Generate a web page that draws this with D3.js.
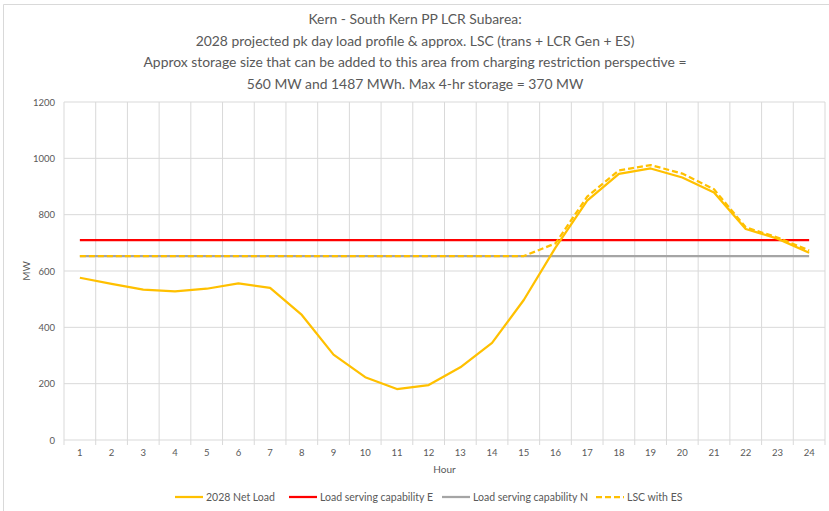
<!DOCTYPE html>
<html><head><meta charset="utf-8">
<script src="https://cdn.jsdelivr.net/npm/d3@7"></script>
<style>body{margin:0;background:#fff}svg{display:block}text{font-family:Lato,"Open Sans",sans-serif}</style>
</head><body><svg id="c" width="829" height="511"></svg>
<script>
const hours = d3.range(1, 25).map(String);
const netLoad = [576,554,534,528,537,556,540,444,303,223,181,195,258,345,497,683,850,945,964,932,879,749,715,665];
const lscE = Array(24).fill(710);
const lscN = Array(24).fill(653);
const lscES = [653,653,653,653,653,653,653,653,653,653,653,653,653,653,653,698,864,957,976,946,890,755,719,673];
const yTicks = [0,200,400,600,800,1000,1200];
const titleLines = ["Kern - South Kern PP LCR Subarea:",
  "2028 projected pk day load profile & approx. LSC (trans + LCR Gen + ES)",
  "Approx storage size that can be added to this area from charging restriction perspective =",
  "560 MW and 1487 MWh. Max 4-hr storage = 370 MW"];
const series = [
  {name:"2028 Net Load", values:netLoad, color:"#FFC000", dash:null},
  {name:"Load serving capability E", values:lscE, color:"#FF0000", dash:null},
  {name:"Load serving capability N", values:lscN, color:"#A5A5A5", dash:null},
  {name:"LSC with ES", values:lscES, color:"#FFC000", dash:"6,3"}
];
const drawOrder = [2,1,3,0];

const svg = d3.select("#c");
const L = 64, R = 825, T = 102, B = 440;
const x = d3.scaleBand().domain(hours).range([L, R]);
const y = d3.scaleLinear().domain([0, 1200]).range([B, T]);
const grid = "#d9d9d9", txt = "#595959";

// chart border
svg.append("path").attr("d", `M3.5,511 V4.5 H829`).attr("fill","none").attr("stroke","#d9d9d9");

// title
svg.append("g").selectAll("text").data(titleLines).join("text")
  .attr("x", 415).attr("y", (d,i)=>24 + i*21.7).attr("text-anchor","middle")
  .attr("font-size", 13.9).attr("fill", txt).text(d=>d);

// horizontal grid
svg.append("g").selectAll("line").data(yTicks).join("line")
  .attr("x1", L).attr("x2", R).attr("y1", d=>y(d)).attr("y2", d=>y(d))
  .attr("stroke", grid).attr("stroke-width",1);
// vertical grid (category boundaries)
const bounds = hours.map(h=>x(h)).concat([R]);
svg.append("g").selectAll("line").data(bounds).join("line")
  .attr("x1", d=>d).attr("x2", d=>d).attr("y1", T).attr("y2", B+5)
  .attr("stroke", grid).attr("stroke-width",1);

// y axis labels
const yAxis = svg.append("g").attr("transform", `translate(${L},0)`)
  .call(d3.axisLeft(y).tickValues(yTicks).tickFormat(d3.format("d")).tickSize(0).tickPadding(9));
yAxis.select(".domain").remove();
yAxis.selectAll("text").attr("fill", txt).attr("font-size", 9.5).attr("font-family","Lato");

// x axis labels
const xAxis = svg.append("g").attr("transform", `translate(0,${B})`)
  .call(d3.axisBottom(x).tickSize(0).tickPadding(9));
xAxis.select(".domain").remove();
xAxis.selectAll("text").attr("fill", txt).attr("font-size", 9.5).attr("font-family","Lato");

svg.append("text").attr("x", (L+R)/2).attr("y", 473).attr("text-anchor","middle")
  .attr("font-size", 10).attr("fill", txt).text("Hour");
svg.append("text").attr("transform", `translate(30,${(T+B)/2}) rotate(-90)`).attr("text-anchor","middle")
  .attr("font-size", 10).attr("fill", txt).text("MW");

// lines
const line = d3.line().x((d,i)=>x(hours[i]) + x.bandwidth()/2).y(d=>y(d));
svg.append("g").selectAll("path").data(drawOrder.map(i=>series[i])).join("path")
  .attr("d", d=>line(d.values)).attr("fill","none").attr("stroke", d=>d.color)
  .attr("stroke-width", 2.25).attr("stroke-dasharray", d=>d.dash).attr("stroke-linejoin","round");

// legend
const legX = [175, 289, 442, 596];
const lg = svg.append("g").selectAll("g").data(series).join("g")
  .attr("transform", (d,i)=>`translate(${legX[i]},497)`);
lg.append("line").attr("x1",0).attr("x2",28).attr("y1",0).attr("y2",0)
  .attr("stroke", d=>d.color).attr("stroke-width",2.25).attr("stroke-dasharray", d=>d.dash);
lg.append("text").attr("x",31).attr("y",3.5).attr("font-size",10.5).attr("fill",txt).text(d=>d.name);
</script></body></html>
